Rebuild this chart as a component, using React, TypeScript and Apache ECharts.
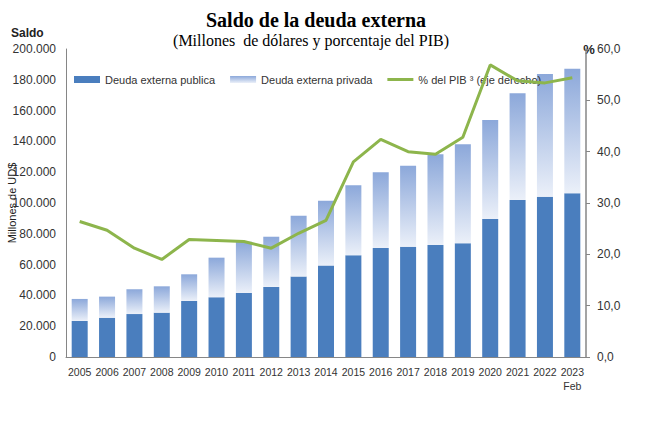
import React, { useEffect, useRef } from "react";
import * as echarts from "echarts";

const years = ["2005","2006","2007","2008","2009","2010","2011","2012","2013","2014","2015","2016","2017","2018","2019","2020","2021","2022","2023\nFeb"];
const publica = [23400,25500,27900,28800,36400,38800,41600,45500,52200,59400,66000,70800,71600,72700,73800,89600,102000,104100,106300];
const privada = [14300,13700,16100,17100,17300,25700,33300,32600,39600,42000,45500,49100,52600,58900,64300,64300,69200,79700,80900];
const pib = [26.4,24.7,21.2,19.0,22.9,22.7,22.5,21.2,24.1,26.6,38.0,42.4,40.0,39.5,42.8,56.9,53.8,53.4,54.4];
const leftTicks = { min: 0, max: 200000, interval: 20000 };
const rightTicks = { min: 0, max: 60, interval: 10 };

const names = ["Deuda externa publica", "Deuda externa privada", "% del PIB \u00b3 (eje derecho)"];

export default function App() {
  const ref = useRef<HTMLDivElement>(null);
  useEffect(() => {
    document.body.style.margin = "0";
    const chart = echarts.init(ref.current!, null, { renderer: "svg" });
    const sans = "'Liberation Sans', Arial, sans-serif";
    const serif = "'Liberation Serif', 'Times New Roman', serif";
    chart.setOption({
      animation: false,
      backgroundColor: "#ffffff",
      grid: { left: 66, right: 68, top: 49, bottom: 64, containLabel: false },
      legend: {
        left: 69,
        top: 69,
        itemWidth: 26,
        itemHeight: 7,
        itemGap: 15,
        textStyle: { fontFamily: sans, fontSize: 11, color: "#333" },
        data: [
          { name: names[0], icon: "rect" },
          { name: names[1], icon: "rect" },
          { name: names[2], icon: "path://M0 0H26V3H0Z" },
        ],
      },
      xAxis: {
        type: "category",
        data: years,
        axisLine: { lineStyle: { color: "#868686", width: 1 } },
        axisTick: { show: false },
        axisLabel: { fontFamily: sans, fontSize: 10.5, color: "#333", margin: 8, lineHeight: 14, interval: 0 },
      },
      yAxis: [
        {
          type: "value",
          min: leftTicks.min,
          max: leftTicks.max,
          interval: leftTicks.interval,
          splitLine: { show: false },
          axisLine: { show: true, lineStyle: { color: "#868686" } },
          axisTick: { show: false },
          axisLabel: {
            fontFamily: sans,
            fontSize: 12,
            color: "#333",
            margin: 10,
            formatter: (v: number) => String(v).replace(/\B(?=(\d{3})+(?!\d))/g, "."),
          },
        },
        {
          type: "value",
          position: "right",
          min: rightTicks.min,
          max: rightTicks.max,
          interval: rightTicks.interval,
          splitLine: { show: false },
          axisLine: { show: true, lineStyle: { color: "#868686", width: 1.5 } },
          axisTick: { show: true, length: 4, lineStyle: { color: "#868686" } },
          axisLabel: {
            fontFamily: sans,
            fontSize: 12,
            color: "#333",
            margin: 11,
            formatter: (v: number) => v.toFixed(1).replace(".", ","),
          },
        },
      ],
      series: [
        {
          name: names[0],
          type: "bar",
          stack: "deuda",
          barWidth: 16,
          data: publica,
          itemStyle: { color: "#4A7EBE" },
        },
        {
          name: names[1],
          type: "bar",
          stack: "deuda",
          barWidth: 16,
          data: privada,
          itemStyle: {
            color: new echarts.graphic.LinearGradient(0, 0, 0, 1, [
              { offset: 0, color: "#8CA8DA" },
              { offset: 1, color: "#EBF0F9" },
            ]),
          },
        },
        {
          name: names[2],
          type: "line",
          yAxisIndex: 1,
          data: pib,
          symbol: "none",
          lineStyle: { color: "#8DB54C", width: 3 },
          itemStyle: { color: "#8DB54C" },
          z: 5,
        },
      ],
      graphic: [
        {
          type: "text",
          x: 316,
          y: 20,
          style: {
            text: "Saldo de la deuda externa",
            font: `bold 20px ${serif}`,
            fill: "#000",
            align: "center",
            verticalAlign: "middle",
          },
        },
        {
          type: "text",
          x: 311,
          y: 40,
          style: {
            text: "(Millones  de dólares y porcentaje del PIB)",
            font: `16px ${serif}`,
            fill: "#000",
            align: "center",
            verticalAlign: "middle",
          },
        },
        {
          type: "text",
          x: 11,
          y: 33,
          style: {
            text: "Saldo",
            font: `bold 12px ${sans}`,
            fill: "#222",
            align: "left",
            verticalAlign: "middle",
          },
        },
        {
          type: "text",
          x: 589,
          y: 49,
          style: {
            text: "%",
            font: `bold 13px ${sans}`,
            fill: "#222",
            align: "center",
            verticalAlign: "middle",
          },
        },
        {
          type: "text",
          x: 12,
          y: 203,
          rotation: Math.PI / 2,
          style: {
            text: "Millones de UD$",
            font: `11px ${sans}`,
            fill: "#222",
            align: "center",
            verticalAlign: "middle",
          },
        },
      ],
    });
    return () => chart.dispose();
  }, []);
  return <div ref={ref} style={{ width: 654, height: 421 }} />;
}
